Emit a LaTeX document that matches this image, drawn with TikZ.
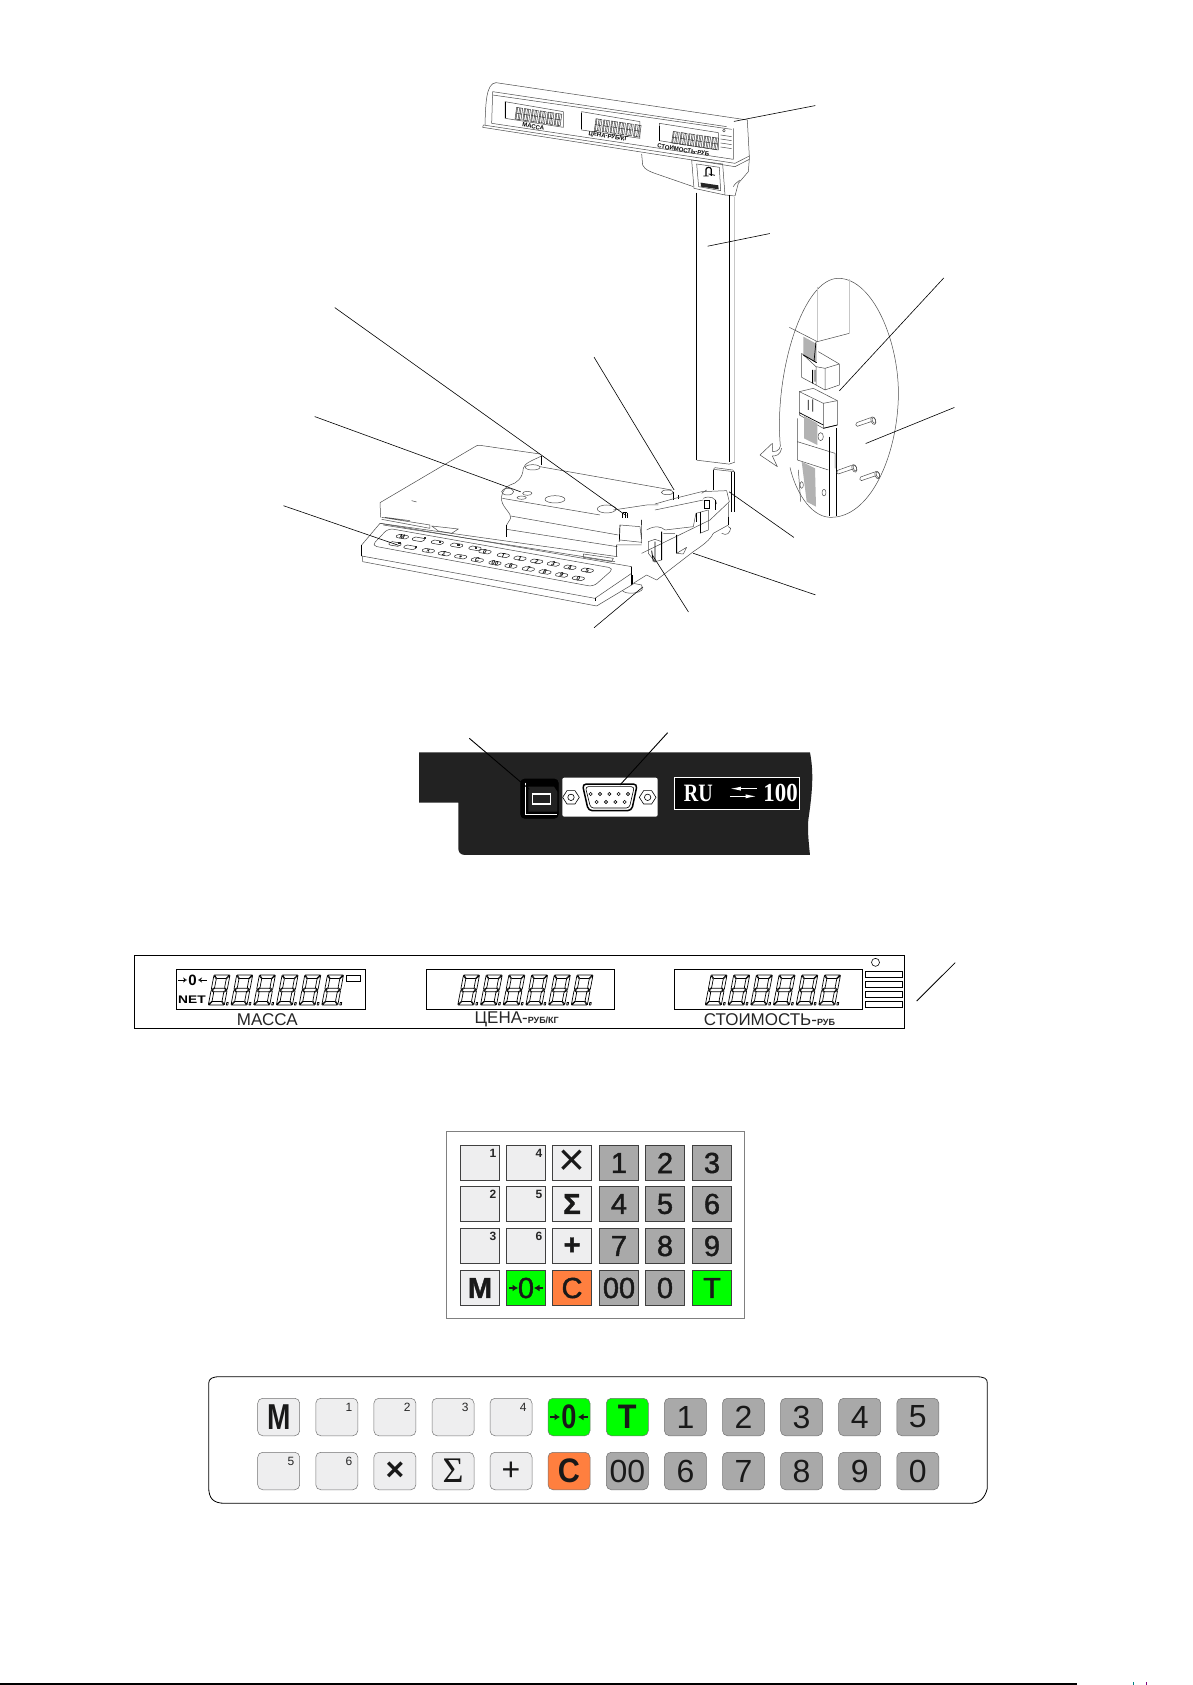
\documentclass[tikz,border=0pt]{standalone}
\usepackage{fontspec}
\setmainfont{Liberation Sans}
\newfontfamily\serifb{Liberation Serif}
\newfontfamily\keyfont[FakeBold=1.5]{Liberation Sans}
\usetikzlibrary{arrows.meta}
\definecolor{keylight}{HTML}{EEEEEF}
\definecolor{keygray}{HTML}{A9A9A9}
\definecolor{keygreen}{HTML}{00FF00}
\definecolor{keyorange}{HTML}{FF7F3F}
\definecolor{panelblack}{HTML}{222222}
\tikzset{
 fine/.style={draw=black!70,line width=.5pt,line join=round},
 heavy/.style={draw=black,line width=.9pt},
 faint/.style={draw=black!22,line width=.9pt},
 leader/.style={draw=black,line width=.6pt},
 seg/.style={draw=black,line width=.7pt,line join=round},
 keya/.style={draw=black!75,line width=.9pt,minimum width=39pt,minimum height=35pt,inner sep=0pt,font=\keyfont\fontsize{29}{29}\selectfont,text=black!90},
 keyb/.style={draw=black!55,line width=.5pt,rounded corners=5pt,minimum width=42pt,minimum height=37.5pt,inner sep=0pt,font=\fontsize{32}{32}\selectfont,text=black!90},
 tinykey/.style={font=\fontsize{12}{12}\selectfont\bfseries,text=black!85,inner sep=0pt},
 zeroarrow/.style={draw=black!90,line width=1.6pt,-{Latex[length=5.5pt,width=7pt]}},
}
% seven segment digit, local 16 x 30
\newcommand{\sevenseg}[2]{%
\begin{scope}[shift={(#1,#2)},xslant=.19]
\draw[seg] (.5,0)--(15.5,0)--(12.5,3.5)--(3.5,3.5)--cycle;
\draw[seg] (1,15)--(3.5,13.2)--(12.5,13.2)--(15,15)--(12.5,16.8)--(3.5,16.8)--cycle;
\draw[seg] (3.5,26.5)--(12.5,26.5)--(15.5,30)--(.5,30)--cycle;
\draw[seg] (0,.5)--(3,4)--(3,12.5)--(.5,14.5)--(0,14)--cycle;
\draw[seg] (16,.5)--(13,4)--(13,12.5)--(15.5,14.5)--(16,14)--cycle;
\draw[seg] (0,16)--(.5,15.5)--(3,17.5)--(3,26)--(0,29.5)--cycle;
\draw[seg] (16,16)--(15.5,15.5)--(13,17.5)--(13,26)--(16,29.5)--cycle;
\draw[seg] (18,27.5) rectangle (19.5,30);
\end{scope}}
\newcommand{\sixdigits}[2]{\foreach \k in {0,...,5}{\sevenseg{#1+\k*22.7}{#2}}}
\newcommand{\headdigits}[2]{\foreach \k in {0,...,5}{%
\begin{scope}[shift={(#1+\k*23.5,#2+\k*3.5)}]
\draw[draw=black!80,line width=.45pt] (0,0)--(18,3)--(13,38)--(-5,35)--cycle (-2.5,17.5)--(15.5,20.5) (9,1.5)--(4,36.5) (3,0.5)--(-2,35.5) (13,2.2)--(8,37.2);
\end{scope}}}
\newcommand{\kbkey}[3]{%
\draw[draw=black!85,line width=.5pt,fill=white,rounded corners=2pt] (#1-14,#2-8)--(#1+21,#2-2)--(#1+14,#2+8)--(#1-21,#2+2)--cycle;
\node[font=\fontsize{6}{6}\selectfont\bfseries,inner sep=0pt,xslant=.3,rotate=-9] at (#1,#2) {#3};}
\newcommand{\screw}[2]{%
\draw[fine] (#1-50,#2+6) -- (#1-8,#2-9) (#1-48,#2+17) -- (#1-4,#2+2) (#1-50,#2+6) .. controls (#1-55,#2+8) and (#1-53,#2+18) .. (#1-48,#2+17);
\draw[fine,fill=white,rotate around={20:(#1,#2)}] (#1,#2) ellipse (7 and 12);
\draw[fine,rotate around={20:(#1,#2)}] (#1+2,#2) ellipse (5 and 9);}
\begin{document}
\begin{tikzpicture}[x=1pt,y=-1pt]
\useasboundingbox (0,0) rectangle (1192,1685);
\fill[white] (0,0) rectangle (1192,1685);

% ---------- head of the scale (crop at 470,70, factor 3)
\begin{scope}[shift={(470,70)},x=.3333pt,y=-.3333pt]
\draw[fine] (45,165) .. controls (47,100) and (48,40) .. (78,38) -- (832,150) -- (838,258) -- (795,280) -- (40,165) -- (38,172) -- (795,290) -- (838,268) -- (838,258);
\draw[fine] (68,65) -- (770,170) (68,75) -- (785,178) (68,65) -- (65,160) -- (790,268) -- (790,175);
\draw[fine] (105,95) -- (280,125) -- (280,172) -- (105,145) -- cycle;
\draw[fine] (335,125) -- (510,155) -- (510,205) -- (335,180) -- cycle;
\draw[fine] (568,160) -- (745,188) -- (745,240) -- (568,212) -- cycle;
\draw[heavy,line width=.6pt] (105,95)--(105,145) (335,130)--(335,178) (568,168)--(568,212);
\headdigits{140}{112} \headdigits{378}{146} \headdigits{610}{184}
\node[font=\fontsize{6}{6}\selectfont\bfseries,rotate=-9,inner sep=0pt] (hm) at (190,170) {МАССА};
\node[font=\fontsize{6}{6}\selectfont\bfseries,rotate=-9,inner sep=0pt] (hc) at (415,200) {ЦЕНА-РУБ/КГ};
\node[font=\fontsize{6}{6}\selectfont\bfseries,rotate=-9,inner sep=0pt] (hs) at (640,240) {СТОИМОСТЬ-РУБ};
\foreach \yy in {195,207,219,231}{\draw[fine] (752,\yy) -- (785,\yy+5);}
\draw[fine] (762,182) circle (4);
\draw[fine] (515,252) -- (518,285) .. controls (525,300) and (540,305) .. (560,312) -- (670,350);
\draw[fine] (665,270) -- (758,282) -- (765,375) -- (672,355) -- cycle;
\draw[fine] (680,282) -- (748,292) -- (752,362) -- (686,350) -- cycle;
\draw[heavy,line width=1.2pt] (708,318) -- (708,298) .. controls (710,290) and (722,290) .. (724,298) -- (724,318);
\draw[heavy,line width=.8pt] (700,318) -- (716,318) (716,312) -- (735,316);
\fill[black!85] (692,338) -- (745,346) -- (746,358) -- (693,350) -- cycle;
\draw[fine] (838,268) -- (835,305) -- (805,340) -- (795,378) -- (765,375);
\draw[fine] (790,350) .. controls (795,340) and (805,335) .. (810,330);
\end{scope}

% ---------- column and leader lines (crop at 250,60: 2.087 x 2.524)
\begin{scope}[shift={(250,60)},x=.47916pt,y=-.3962pt]
\draw[heavy] (932,335) -- (932,1010);
\draw[heavy] (1000,340) -- (1000,1015);
\draw[faint] (1012,345) -- (1012,1015);
\draw[fine] (932,1010) -- (1000,1020) -- (1012,1015);
\coordinate (a1) at (1180,115); \coordinate (b1) at (1010,155);
\coordinate (a2) at (1085,438); \coordinate (b2) at (955,470);
\coordinate (a3) at (1448,550); \coordinate (b3) at (1230,835);
\coordinate (a4) at (1470,877); \coordinate (b4) at (1285,968);
\coordinate (a5) at (177,625);  \coordinate (b5) at (785,1150);
\coordinate (a6) at (718,750);  \coordinate (b6) at (885,1085);
\coordinate (a7) at (135,900);  \coordinate (b7) at (565,1090);
\coordinate (a8) at (70,1125);  \coordinate (b8) at (310,1225);
\coordinate (a9) at (1135,1205);\coordinate (b9) at (1000,1090);
\coordinate (a10) at (1180,1350);\coordinate (b10) at (925,1245);
\coordinate (a11) at (915,1393);\coordinate (b11) at (840,1250);
\coordinate (a12) at (718,1433);\coordinate (b12) at (820,1330);
\end{scope}

% ---------- base of the scale (crop at 340,430, factor 3)
\begin{scope}[shift={(340,430)},x=.3333pt,y=-.3333pt]
% platform
\draw[fine] (122,262) -- (120,218) -- (405,50) .. controls (410,46) and (415,45) .. (420,46) -- (600,72);
\draw[fine] (215,212) -- (230,216);
\draw[fine] (605,78) .. controls (575,92) and (553,100) .. (550,115) .. controls (548,145) and (530,160) .. (510,165) .. controls (490,175) and (482,195) .. (485,212) .. controls (490,235) and (515,250) .. (512,265) -- (500,285);
\draw[heavy,line width=.7pt] (500,285) -- (500,322) (605,78) -- (605,105);
\draw[fine] (600,110) -- (995,180);
\draw[fine] (487,205) -- (780,255) (512,258) -- (835,315) (500,298) -- (832,350) (820,240) -- (920,225) -- (955,225);
\foreach \ex/\ey/\ea/\eb in {578/112/22/8, 503/185/18/10, 562/190/14/6, 545/203/14/5, 645/208/30/11, 800/237/28/12, 982/187/18/7}{\draw[fine] (\ex,\ey) ellipse [x radius=\ea,y radius=\eb];}
% centre block
\draw[fine] (840,285) -- (900,290) -- (905,330) (905,270) -- (905,340) (840,330) -- (905,337) (830,345) -- (905,345);
\draw[heavy,line width=.7pt] (840,285) -- (838,335) (830,345) -- (830,380) (905,270) -- (905,285);
\draw[heavy,line width=.7pt] (848,248) -- (848,265) (855,248) -- (855,265) (862,248) -- (862,265) (848,248) -- (862,248);
\draw[heavy,line width=.7pt] (1000,185) -- (1000,210) (1015,195) -- (1015,208);
% arm and base on the right
\draw[fine] (945,222) -- (1005,205) -- (1085,185) -- (1160,182) -- (1168,215) -- (1110,270) -- (905,370);
\draw[fine] (945,240) -- (1090,210) (1085,190) -- (1100,180) (1090,205) .. controls (1110,195) and (1130,205) .. (1130,222);
\draw[heavy,line width=.8pt] (1092,212) -- (1092,235) -- (1108,235) -- (1108,212) -- cycle (1125,210) -- (1125,240);
\draw[fine] (1165,220) -- (1165,285) -- (1120,310) .. controls (1110,330) and (1090,345) .. (1060,365) -- (950,450) -- (920,435) -- (880,460);
\draw[fine] (920,300) .. controls (945,285) and (965,290) .. (975,300) -- (1060,290) -- (1068,250) (1068,250) -- (1105,240) -- (1105,300) -- (1080,310);
\draw[heavy,line width=.8pt] (1068,250) -- (1068,275) (1080,245) -- (1080,310) (1165,260) -- (1165,285);
\draw[fine] (925,335) -- (945,328) -- (965,335) -- (965,390) -- (945,395) -- (925,370) -- cycle (970,310) -- (1005,310);
\draw[heavy,line width=.8pt] (945,335) -- (945,397) (965,305) -- (965,390) (1010,315) -- (1010,370) (935,362) -- (940,395);
\draw[fine] (1010,370) -- (1040,352) -- (1030,372) -- cycle;
\draw[fine] (1145,310) .. controls (1160,318) and (1170,310) .. (1172,295) -- (1165,290);
\draw[fine] (847,482) .. controls (860,495) and (900,490) .. (907,478) -- (905,465) -- (880,460);
\draw[heavy,line width=.7pt] (878,435) -- (878,462);
% post stub
\draw[fine] (1120,118) -- (1125,113) -- (1178,120) -- (1183,125) -- (1120,118);
\draw[heavy] (1120,120) -- (1120,180) (1175,125) -- (1175,245) (1183,125) -- (1183,245);
% keyboard housing
\draw[fine] (65,345) -- (120,280) -- (875,410) -- (875,430) -- (765,505) -- (65,378) -- cycle;
\draw[heavy,line width=.7pt] (65,345) -- (65,378) (875,410) -- (875,465) (765,505) -- (765,512);
\draw[fine] (68,395) -- (770,528) -- (880,462) (68,378) -- (68,395);
\draw[fine] (125,262) -- (270,285) (125,268) -- (270,295) (135,262) -- (210,272) (270,285) -- (270,295);
\draw[fine] (275,288) -- (355,297) -- (335,310) -- (295,303) -- cycle;
\draw[fine] (130,285) -- (825,395) (120,280) -- (832,380);
\draw[fine] (730,372) -- (820,385) -- (815,395) -- (730,382) -- cycle;
\draw[fine,rounded corners=5pt] (145,295) -- (822,415) -- (760,470) -- (95,347) -- cycle;
\foreach \ka/\kb/\kt in {187/320/M,235/328/,292/337/,350/346/,405/355/,435/365/0,490/376/T,540/385/1,590/394/2,640/402/3,690/412/4,742/421/5,165/342/,210/352/,265/362/×,313/371/Σ,362/380/+,412/390/C,465/399/00,513/408/6,565/417/7,615/426/8,665/435/9,715/445/0}{\kbkey{\ka}{\kb}{\kt}}
\foreach \ka/\kb in {255/325,300/335,355/345,408/354,178/340,228/350}{\fill[black!85] (\ka-4,\kb-3) rectangle (\ka+4,\kb+3);}
\end{scope}

% ---------- inset (crop at 760,270, factor 3)
\begin{scope}[shift={(760,270)},x=.3333pt,y=-.3333pt]
\draw[fine] (60,515) .. controls (45,300) and (130,25) .. (235,25) .. controls (340,25) and (420,220) .. (415,385) .. controls (410,560) and (330,745) .. (210,742) .. controls (150,740) and (105,660) .. (90,592);
\draw[fine] (60,515) .. controls (65,535) and (55,545) .. (38,545) -- (37,520) -- (0,555) -- (52,590) -- (37,558) .. controls (50,558) and (60,555) .. (65,535);
\draw[faint] (172,50) -- (172,215) (268,28) -- (268,190);
\draw[fine] (88,172) -- (172,215) -- (268,190);
% upper plug
\fill[black!30] (130,200) -- (170,222) -- (170,275) -- (130,255) -- cycle;
\draw[fine] (125,250) -- (125,322) -- (168,345) -- (168,290) -- cycle (168,345) -- (195,360) -- (238,345) -- (238,282) -- (195,295) -- (168,290) (195,295) -- (195,360) (175,245) -- (238,282);
\draw[heavy] (130,255) -- (170,278) (158,300) -- (158,340) (165,300) -- (165,335);
\draw[heavy,line width=.7pt] (168,215) -- (162,275);
% lower plug
\draw[fine,fill=white] (118,365) -- (160,355) -- (232,392) -- (232,465) -- (190,475) -- (118,435) -- cycle;
\draw[fine] (118,365) -- (190,400) -- (232,392) (190,400) -- (190,475);
\draw[heavy,line width=.7pt] (145,390) -- (145,420) (158,388) -- (158,425) (118,428) -- (190,465) (190,475) -- (232,465);
% ribbon and plate
\fill[black!30] (132,438) -- (172,460) -- (172,525) -- (132,505) -- cycle;
\draw[fine] (112,445) -- (112,515) -- (225,550) -- (225,595) (112,570) -- (205,600) (112,515) -- (112,570) (115,600) -- (122,695);
\fill[black!30] (125,575) -- (165,595) -- (168,710) -- (140,695) -- cycle;
\draw[fine] (182,500) ellipse (8 and 12) (192,668) ellipse (6 and 10) (125,645) ellipse (5 and 10);
\draw[heavy] (207,500) -- (207,738) (228,475) -- (228,738);
\screw{340}{452} \screw{283}{595} \screw{352}{615}
\end{scope}

% ---------- leader lines of the drawing
\foreach \n in {1,...,12}{\draw[leader] (a\n) -- (b\n);}

% ---------- connector panel (crop at 400,720, factor 3)
\begin{scope}[shift={(400,720)},x=.3333pt,y=-.3333pt]
\fill[panelblack] (57,97) -- (1230,97) .. controls (1240,150) and (1240,200) .. (1225,300) .. controls (1222,340) and (1228,380) .. (1230,405) -- (195,405) .. controls (180,405) and (175,395) .. (175,385) -- (175,248) -- (57,248) -- cycle;
\draw[black,line width=.6pt,fill=black,rounded corners=4pt] (362,177) rectangle (475,295);
\draw[white,line width=.8pt] (375,188) -- (375,283) -- (472,283);
\fill[panelblack] (385,200) -- (462,200) -- (472,215) -- (472,275) -- (385,275) -- cycle;
\draw[white,line width=1.5pt] (397,222) rectangle (452,252);
\fill[white,rounded corners=2pt] (487,173) rectangle (773,290);
\foreach \nx in {513,743}{
 \draw[black,line width=.6pt] (\nx-25,232) -- (\nx-12,212) -- (\nx+12,212) -- (\nx+25,232) -- (\nx+12,252) -- (\nx-12,252) -- cycle;
 \draw[black,line width=.6pt] (\nx,232) circle (3.2pt);}
\draw[black,line width=1.5pt,rounded corners=4pt] (547,192) -- (712,192) -- (695,272) -- (565,272) -- cycle;
\draw[black,line width=.6pt,rounded corners=3pt] (556,200) -- (703,200) -- (688,264) -- (572,264) -- cycle;
\foreach \px in {0,1,2,3,4}{\draw[black,line width=.6pt] (572+\px*28,222) circle (1.6pt);}
\foreach \px in {0,1,2,3}{\draw[black,line width=.6pt] (590+\px*28,246) circle (1.6pt);}
\draw[white,line width=.8pt,fill=black] (823,172) rectangle (1197,268);
\node[white,font=\serifb\bfseries\fontsize{25}{25}\selectfont,inner sep=0pt] (ru) at (895,220) {\scalebox{.8}[1]{RU}};
\node[white,font=\serifb\bfseries\fontsize{26}{26}\selectfont,inner sep=0pt] (hundred) at (1142,218) {\scalebox{.88}[1]{100}};
\draw[white,line width=1pt,-{Latex[length=11pt,width=4pt]}] (1070,206) -- (990,206);
\draw[white,line width=1pt,-{Latex[length=11pt,width=4pt]}] (990,229) -- (1070,229);
\coordinate (c1) at (208,55); \coordinate (d1) at (388,208);
\coordinate (c2) at (803,38); \coordinate (d2) at (660,195);
\draw[black,line width=.9pt] (c1) -- (d1);
\draw[black,line width=.9pt] (c2) -- (d2);
\end{scope}

% ---------- LCD panel (crop at 120,940: 1.82 x 3)
\begin{scope}[shift={(120,940)},x=.54945pt,y=-.3333pt]
\draw[black,line width=.8pt] (27,46) rectangle (1428,265);
\foreach \rx in {103,557,1009}{\draw[black,line width=.8pt] (\rx,88) rectangle (\rx+343,209);}
\draw[black,line width=.6pt] (412,105) rectangle (438,123);
\draw[black,line width=.6pt] (1375,67) circle (4pt);
\foreach \by in {94,124,154,184}{\draw[black,line width=.7pt] (1357,\by) rectangle (1423,\by+18);}
\coordinate (e1) at (1520,68); \coordinate (e2) at (1450,183);
\draw[black,line width=.8pt] (e1) -- (e2);
\node[font=\fontsize{17}{17}\selectfont,inner sep=0pt,text=black!85] (lm) at (268,238) {МАССА};
\node[font=\fontsize{17}{17}\selectfont,inner sep=0pt,text=black!85] (lc) at (722,238) {ЦЕНА-{\fontsize{9}{9}\selectfont\bfseries РУБ/КГ}};
\node[font=\fontsize{17}{17}\selectfont,inner sep=0pt,text=black!85] (ls) at (1182,238) {СТОИМОСТЬ-{\fontsize{9}{9}\selectfont\bfseries РУБ}};
\node[font=\fontsize{11}{11}\selectfont\bfseries,inner sep=0pt] (lnet) at (131,179) {\scalebox{1.25}[1]{NET}};
\node[font=\fontsize{15}{15}\selectfont\bfseries,inner sep=0pt] (lzero) at (132,120) {0};
\draw[black,line width=.5pt,-{Stealth[open,length=4pt,width=5pt]}] (106,120) -- (122,120);
\draw[black,line width=.5pt,-{Stealth[open,length=4pt,width=5pt]}] (158,120) -- (142,120);
\end{scope}
\sixdigits{214}{975}
\sixdigits{463.5}{975}
\sixdigits{711}{975}

% ---------- square keypad
\begin{scope}[shift={(430,1120)},x=.3333pt,y=-.3333pt]
\draw[black!50,line width=.8pt] (50,35) rectangle (943,596);
\end{scope}
\foreach \cx/\ry/\col/\txt/\nm in {
 480/1163/keylight//p11,526/1163/keylight//p12,572/1163/keylight/{\normalfont\fontsize{46}{30}\selectfont ×}/p13,
 619/1163/keygray/1/p14,665/1163/keygray/2/p15,712/1163/keygray/3/p16,
 480/1204/keylight//p21,526/1204/keylight//p22,572/1204/keylight/\textbf{Σ}/p23,
 619/1204/keygray/4/p24,665/1204/keygray/5/p25,712/1204/keygray/6/p26,
 480/1246/keylight//p31,526/1246/keylight//p32,572/1246/keylight/\textbf{+}/p33,
 619/1246/keygray/7/p34,665/1246/keygray/8/p35,712/1246/keygray/9/p36,
 480/1288/keylight/\textbf{M}/p41,526/1288/keygreen/0/p42,572/1288/keyorange/C/p43,
 619/1288/keygray/00/p44,665/1288/keygray/0/p45,712/1288/keygreen/T/p46}
 {\node[keya,fill=\col] (\nm) at (\cx,\ry) {\txt};}
\foreach \nm/\txt in {p11/1,p12/4,p21/2,p22/5,p31/3,p32/6}
 {\node[tinykey] (s\nm) at ([xshift=-7pt,yshift=-8pt]\nm.north east) {\txt};}
\foreach \nm in {p42}{
 \draw[zeroarrow] ([xshift=-17pt]\nm.center) -- ([xshift=-8pt]\nm.center);
 \draw[zeroarrow] ([xshift=17pt]\nm.center) -- ([xshift=8pt]\nm.center);}

% ---------- long keypad
\begin{scope}[shift={(200,1360)},x=.51125pt,y=-.3333pt]
\draw[black,line width=.8pt] (17,70) .. controls (17,55) and (25,50) .. (40,50) -- (1515,50) .. controls (1535,50) and (1540,55) .. (1540,70) -- (1540,385) .. controls (1535,415) and (1525,430) .. (1505,430) -- (50,430) .. controls (25,430) and (17,415) .. (17,380) -- cycle;
\end{scope}
\foreach \cx/\ry/\col/\txt/\nm in {
 278.7/1417/keylight/\scalebox{.78}[1]{\fontsize{36}{36}\selectfont\bfseries M}/q1,336.8/1417/keylight//q2,394.9/1417/keylight//q3,453/1417/keylight//q4,511/1417/keylight//q5,
 569/1417/keygreen/\scalebox{.8}[1]{\fontsize{34}{34}\selectfont\bfseries 0}/q6,627.3/1417/keygreen/\scalebox{.9}[1]{\fontsize{34}{34}\selectfont\bfseries T}/q7,685.4/1417/keygray/1/q8,743.5/1417/keygray/2/q9,801.6/1417/keygray/3/q10,859.7/1417/keygray/4/q11,917.8/1417/keygray/5/q12,
 278.7/1471/keylight//r1,336.8/1471/keylight//r2,394.9/1471/keylight/\textbf{×}/r3,453/1471/keylight/{\serifb\fontsize{36}{36}\selectfont Σ}/r4,511/1471/keylight/+/r5,
 569/1471/keyorange/\scalebox{.9}[1]{\fontsize{34}{34}\selectfont\bfseries C}/r6,627.3/1471/keygray/00/r7,685.4/1471/keygray/6/r8,743.5/1471/keygray/7/r9,801.6/1471/keygray/8/r10,859.7/1471/keygray/9/r11,917.8/1471/keygray/0/r12}
 {\node[keyb,fill=\col] (\nm) at (\cx,\ry) {\txt};}
\foreach \nm/\txt in {q2/1,q3/2,q4/3,q5/4,r1/5,r2/6}
 {\node[tinykey,font=\fontsize{12}{12}\selectfont] (s\nm) at ([xshift=-9pt,yshift=-9pt]\nm.north east) {\txt};}
\foreach \nm in {q6}{
 \draw[zeroarrow] ([xshift=-19pt]\nm.center) -- ([xshift=-9pt]\nm.center);
 \draw[zeroarrow] ([xshift=19pt]\nm.center) -- ([xshift=9pt]\nm.center);}

% ---------- page rule at the bottom
\coordinate (f1) at (0,1684); \coordinate (f2) at (1077,1684);
\draw[black,line width=1.6pt] (f1) -- (f2);
\draw[teal,line width=.7pt] (1133,1682) -- (1133,1685);
\draw[violet,line width=.7pt] (1146,1682) -- (1146,1685);
\end{tikzpicture}
\end{document}
